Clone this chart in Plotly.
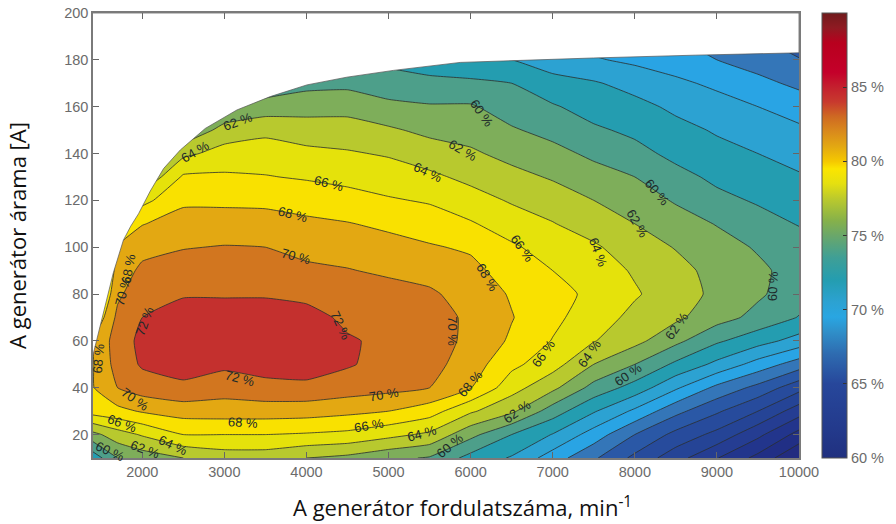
import numpy as np
import plotly.graph_objects as go

# Grid axes
speed = [1400, 1700, 2000, 2500, 3000, 3500, 4000, 4500, 5000, 5500, 6000, 6500, 7000, 7500, 8000, 8500, 9000, 9500, 10000]
current = [10, 20, 30, 40, 50, 60, 70, 80, 90, 100, 110, 120, 130, 140, 150, 160, 170, 180, 190]

# Efficiency (%) read per speed column, from current 10 upward
e1400 = [56.8, 61.4, 66.9, 67.9, 67.9, 68.0, 66.0, 64.0, 62.0, 60.0, 58.0, 56.0, 54.0, 52.0, 50.0, 48.0, 46.0, 44.0, 42.0]
e1700 = [60.0, 63.1, 67.4, 70.0, 70.8, 71.0, 70.5, 69.6, 69.0, 68.2, 66.0, 64.0, 62.0, 60.0, 58.0, 56.0, 54.0, 52.0, 50.0]
e2000 = [60.9, 64.2, 68.2, 71.0, 72.25, 72.5, 72.0, 71.3, 70.4, 69.4, 67.9, 65.4, 62.0, 59.0, 57.0, 55.0, 53.0, 51.0, 49.0]
e2500 = [62.0, 66.0, 68.9, 71.6, 72.8, 73.4, 73.0, 71.8, 70.9, 69.9, 68.9, 67.6, 66.3, 63.5, 60.0, 57.0, 55.0, 53.0, 51.0]
e3000 = [62.9, 66.0, 69.0, 70.9, 72.4, 73.5, 73.0, 71.8, 71.0, 70.1, 68.9, 67.6, 66.3, 64.8, 62.8, 60.0, 58.0, 56.0, 54.0]
e3500 = [62.9, 66.0, 69.0, 71.4, 72.8, 73.5, 73.0, 71.8, 70.9, 70.0, 68.9, 67.5, 66.1, 65.0, 63.5, 60.9, 58.5, 56.5, 55.0]
e4000 = [62.0, 65.8, 68.9, 71.5, 73.0, 73.6, 72.7, 71.5, 70.4, 69.4, 68.4, 67.2, 65.8, 64.5, 63.0, 61.2, 59.4, 57.5, 56.0]
e4500 = [61.5, 65.5, 68.5, 71.0, 72.2, 72.2, 71.6, 70.9, 70.1, 69.2, 68.1, 66.8, 65.4, 64.2, 62.9, 61.3, 59.5, 58.0, 57.0]
e5000 = [60.5, 64.6, 68.0, 70.6, 71.3, 71.6, 71.3, 70.7, 69.7, 68.7, 67.6, 66.2, 65.0, 63.8, 62.3, 60.5, 58.9, 57.5, 56.5]
e5500 = [59.8, 63.6, 66.9, 70.0, 70.7, 71.0, 70.9, 70.3, 69.3, 68.2, 67.0, 65.8, 64.4, 63.0, 61.5, 60.2, 58.5, 57.0, 56.0]
e6000 = [57.3, 60.6, 64.3, 68.1, 69.0, 69.5, 69.6, 69.2, 68.6, 67.7, 66.2, 64.8, 63.5, 62.3, 61.2, 60.2, 58.5, 56.0, 55.0]
e6500 = [55.8, 58.0, 62.4, 64.8, 66.5, 67.7, 68.1, 67.8, 67.0, 66.3, 65.0, 63.8, 62.6, 61.4, 60.2, 59.1, 58.0, 56.0, 55.0]
e7000 = [53.0, 55.9, 59.0, 62.5, 64.8, 65.9, 66.5, 66.9, 66.0, 65.1, 64.1, 63.0, 61.8, 60.6, 59.4, 58.2, 56.7, 55.0, 54.0]
e7500 = [50.3, 53.1, 56.2, 59.3, 62.0, 64.1, 64.9, 65.4, 64.9, 64.3, 63.0, 62.0, 60.8, 59.6, 58.3, 57.2, 56.2, 54.2, 53.0]
e8000 = [47.5, 50.0, 53.6, 57.2, 60.0, 62.6, 63.5, 64.2, 63.8, 62.9, 62.0, 61.0, 60.0, 58.6, 57.6, 56.6, 55.3, 53.6, 52.5]
e8500 = [44.8, 47.4, 50.6, 54.3, 57.6, 60.5, 62.4, 63.0, 62.6, 61.9, 60.9, 59.8, 58.6, 57.5, 56.6, 55.6, 54.4, 53.0, 52.0]
e9000 = [42.1, 45.4, 48.3, 51.5, 55.5, 58.3, 60.8, 61.5, 61.4, 60.8, 59.9, 58.5, 57.6, 56.6, 55.8, 54.8, 53.6, 52.0, 51.0]
e9500 = [39.4, 42.5, 46.0, 49.4, 53.2, 56.8, 59.4, 60.3, 60.4, 59.8, 58.7, 57.8, 57.0, 56.0, 55.0, 54.0, 52.5, 51.2, 50.0]
e10000 = [36.0, 39.3, 42.9, 46.7, 51.0, 55.2, 57.9, 58.9, 59.2, 58.8, 57.9, 57.0, 56.2, 55.3, 54.4, 53.0, 51.6, 50.1, 49.0]
eff_columns = [e1400, e1700, e2000, e2500, e3000, e3500, e4000, e4500, e5000, e5500,
               e6000, e6500, e7000, e7500, e8000, e8500, e9000, e9500, e10000]

# Operating envelope (upper limit of measured region)
limit_speed = [1400, 1464, 1549, 1647, 1770, 1860, 1955, 2098, 2260, 2463, 2767, 3153, 3559, 4006, 4493, 5061, 5873, 6178, 7497, 8735, 10000]
limit_current = [54, 63, 76, 89, 103, 109, 114.3, 124, 133.6, 141.5, 150.7, 158.6, 164.3, 169.3, 172.6, 175.5, 178.9, 179.3, 180.8, 182, 183]

# Contour band mid-values and colours
band_mid = [35, 37, 39, 41, 43, 45, 47, 49, 51, 53, 55, 57, 59, 61, 63, 65, 67, 69, 71, 73]
band_col = ["#222c80", "#222c80", "#212f85", "#22358c", "#253d92", "#254496", "#274b9c", "#2a58a6", "#3476b8", "#29a4e4",
            "#2ca2d2", "#249db0", "#4d9f8a", "#7eae5a", "#b8c92e", "#e5e20b", "#f9e100", "#e3a812", "#d2761f", "#c4302e"]

# Colour bar
bar_range = [60, 90]
bar_stops = [60, 62, 65, 67, 68.5, 69.5, 70.5, 72, 73.5, 75, 76, 77.5, 78.5, 79.5, 80, 81, 82, 83, 84, 85, 86, 88, 89, 90]
bar_cols = ["#20307f", "#233a8c", "#27479b", "#2e6bb0", "#2f8fc9", "#29a6e2", "#2ca2d2", "#249db0", "#3f9f96", "#6aa76a",
            "#86b14a", "#bcca2c", "#e5e010", "#fbe500", "#f5c800", "#e3a812", "#d98a1c", "#cf6a22", "#c83a2e", "#c4202e",
            "#c4002a", "#b8001e", "#8f1a22", "#701a1c"]
bar_ticks = [60, 65, 70, 75, 80, 85]
bar_ticktext = ["60 %", "65 %", "70 %", "75 %", "80 %", "85 %"]

# Inline contour labels: text, speed, current, rotation
label_text = ["62 %", "64 %", "66 %", "68 %", "70 %", "72 %", "72 %", "72 %", "70 %", "70 %", "70 %", "70 %",
              "68 %", "68 %", "66 %", "62 %", "60 %", "64 %", "68 %", "66 %", "64 %", "60 %", "68 %", "62 %",
              "66 %", "64 %", "60 %", "62 %", "60 %", "68 %", "66 %", "64 %", "62 %", "60 %", "62 %", "60 %", "64 %"]
label_x = [3169, 2646, 4278, 3839, 3876, 2037, 4412, 3194, 5776, 4947, 1915, 1769,
           1830, 1464, 1756, 2037, 1610, 2378, 3230, 4765, 5410, 5750, 5995, 6568,
           6884, 7445, 7920, 8516, 9686, 6202, 6628, 7554, 8029, 8273, 5910, 6141, 5484]
label_y = [153.5, 141, 127.3, 114, 96, 68.5, 66.4, 44, 64, 37, 35, 81.4,
           91, 52.6, 24.7, 13.6, 12.7, 15.3, 25.2, 23.9, 20.4, 15.3, 41.9, 29.9,
           54.8, 54.8, 45.8, 66.4, 83.5, 87, 99.4, 97.7, 110, 123.4, 141.5, 157.3, 132]
label_angle = [-20, -30, 15, 15, 15, -70, 65, 15, 90, -10, 35, -75,
               -80, -85, 20, 20, 25, 25, 3, -10, -15, -40, -50, -35,
               -55, -55, -35, -55, -88, 60, 55, 70, 60, 50, 30, 55, 25]

z = np.array(eff_columns).T

zmin, zmax = band_mid[0], band_mid[-1]
colorscale = [[(m - zmin) / (zmax - zmin), c] for m, c in zip(band_mid, band_col)]
bar_scale = [[(s - bar_range[0]) / (bar_range[1] - bar_range[0]), c] for s, c in zip(bar_stops, bar_cols)]

fig = go.Figure()
fig.add_trace(go.Contour(
    x=speed, y=current, z=z,
    zauto=False, zmin=zmin, zmax=zmax,
    colorscale=colorscale, showscale=False,
    autocontour=False,
    contours=dict(start=36, end=72, size=2, coloring="fill", showlabels=False),
    line=dict(color="#2b2f2f", width=0.8, smoothing=0.4),
    hoverinfo="skip",
))
# White mask above the operating limit
fig.add_trace(go.Scatter(
    x=limit_speed + [speed[-1], speed[0]],
    y=limit_current + [200, 200],
    mode="lines", fill="toself", fillcolor="white",
    line=dict(color="#555555", width=0.7),
    hoverinfo="skip", showlegend=False,
))
# Carrier of the colour bar, outside the visible axes range
fig.add_trace(go.Scatter(
    x=[20000, 20000], y=[300, 300], mode="markers",
    marker=dict(color=bar_range, cmin=bar_range[0], cmax=bar_range[1], colorscale=bar_scale, size=1,
                showscale=True,
                colorbar=dict(
                    x=1.0326, xanchor="left", xpad=0, y=0.5, yanchor="middle", ypad=0,
                    len=1, lenmode="fraction", thickness=25, thicknessmode="pixels",
                    outlinecolor="#555555", outlinewidth=1,
                    tickmode="array", tickvals=bar_ticks, ticktext=bar_ticktext,
                    ticks="inside", ticklen=4, tickcolor="#333333", tickwidth=1,
                    tickfont=dict(family="Liberation Sans", size=14.5, color="#6b6b6b"),
                )),
    hoverinfo="skip", showlegend=False,
))

for t, lx, ly, a in zip(label_text, label_x, label_y, label_angle):
    fig.add_annotation(x=lx, y=ly, text=t, textangle=a, showarrow=False,
                       font=dict(family="Liberation Sans", size=13, color="#1d2a2a"))

fig.add_annotation(xref="paper", yref="paper", x=0.524, y=-0.11, xanchor="center", yanchor="middle",
                   text="A generátor fordulatszáma, min<sup>-1</sup>", showarrow=False,
                   font=dict(family="Open Sans", size=22, color="#111111"))

axis_common = dict(showgrid=False, zeroline=False, showline=True, linecolor="#7a7a7a", linewidth=1.5,
                   mirror="ticks", ticks="inside", ticklen=6, tickcolor="#666666", tickwidth=1,
                   automargin=False, tickformat="d", ticklabeloverflow="allow",
                   tickfont=dict(family="Liberation Sans", size=14.5, color="#6b6b6b"))

fig.update_layout(
    width=896, height=524, autosize=False,
    margin=dict(l=93, r=97, t=13, b=66, autoexpand=False),
    paper_bgcolor="white", plot_bgcolor="white",
    showlegend=False,
    xaxis=dict(range=[1400, 10000], tickvals=[2000, 3000, 4000, 5000, 6000, 7000, 8000, 9000, 10000],
               **axis_common),
    yaxis=dict(range=[10, 200], tickvals=[20, 40, 60, 80, 100, 120, 140, 160, 180, 200],
               title=dict(text="A generátor árama [A]", standoff=31,
                          font=dict(family="Open Sans", size=22, color="#111111")),
               **axis_common),
)

fig.write_html("out.html", config={"displayModeBar": False},
               post_script="document.body.style.margin='0';document.documentElement.style.overflow='hidden';")
